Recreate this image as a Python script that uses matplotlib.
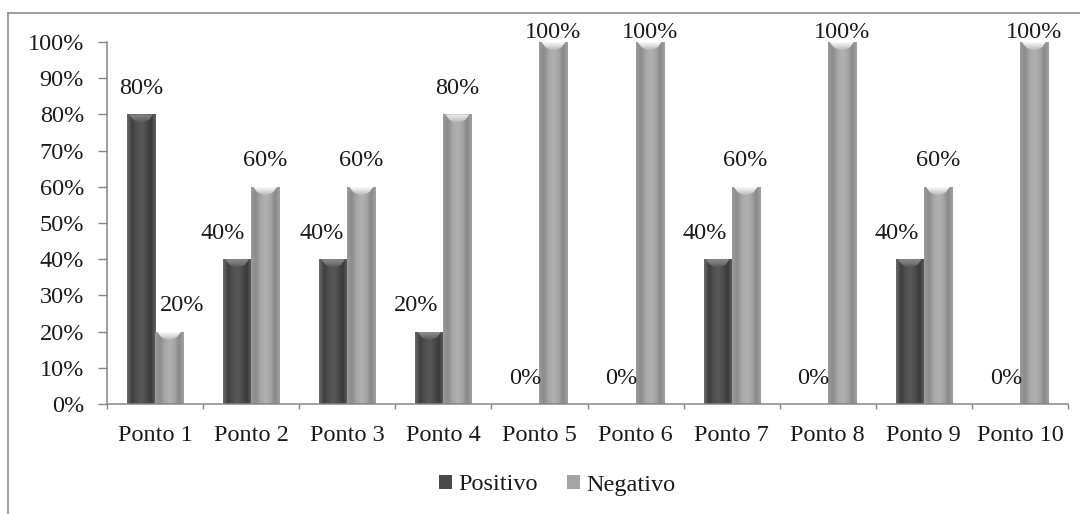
import numpy as np
import matplotlib
matplotlib.use("Agg")
import matplotlib.pyplot as plt
from matplotlib.colors import LinearSegmentedColormap
from matplotlib.patches import Polygon, Patch
from matplotlib.lines import Line2D

# ---- data ----
categories = ["Ponto 1", "Ponto 2", "Ponto 3", "Ponto 4", "Ponto 5",
              "Ponto 6", "Ponto 7", "Ponto 8", "Ponto 9", "Ponto 10"]
positivo = [80, 40, 40, 20, 0, 0, 40, 0, 40, 0]
negativo = [20, 60, 60, 80, 100, 100, 60, 100, 60, 100]
y_ticks = [0, 10, 20, 30, 40, 50, 60, 70, 80, 90, 100]
series_names = ["Positivo", "Negativo"]

# horizontal nudges (pixels) of the value labels
pos_label_shift = [0, -14, -12, -13, 0, 0, -13, 0, -13, 0]
neg_label_shift = [13, 0, 0, 0, 0, 0, 0, 0, 0, 0]

plt.rcParams['font.family'] = ['Liberation Serif', 'DejaVu Serif']
FS = 17.5
TXT = '#1a1a1a'
AXC = '#868686'

W, H = 1080, 514
fig = plt.figure(figsize=(W / 100, H / 100), dpi=100)
fig.patch.set_facecolor('white')

ax_l, ax_r, ax_b, ax_t = 107 / W, 1068 / W, 1 - 404 / H, 1 - 42 / H
ax = fig.add_axes([ax_l, ax_b, ax_r - ax_l, ax_t - ax_b])

x = np.arange(len(categories))
bw = 0.292
xlim = (-0.5, len(categories) - 0.5)
ylim = (0, 100)
px_x = (xlim[1] - xlim[0]) / ((ax_r - ax_l) * W)
px_y = (ylim[1] - ylim[0]) / ((ax_t - ax_b) * H)

dark_body = ['#6a6a6a', '#3e3e3e', '#4f4f4f', '#585858', '#4c4c4c', '#3a3a3a', '#626262']
dark_cap = ['#555555', '#8e8e8e']
light_body = ['#9a9a9a', '#8c8c8c', '#a6a6a6', '#b2b2b2', '#a8a8a8', '#8a8a8a', '#a0a0a0']
light_cap = ['#b0b0b0', '#fafafa']


def shaded_bar(xc, h, body, cap, z=2):
    bars = ax.bar(xc, h, width=bw, color=body[3], edgecolor='none', zorder=z)
    patch = bars[0]
    if h <= 0:
        return
    x0 = patch.get_x()
    x1 = x0 + patch.get_width()
    top = patch.get_height()
    grad = np.linspace(0, 1, 64)[None, :]
    im = ax.imshow(grad, extent=(x0, x1, 0, top), aspect='auto', origin='lower',
                   cmap=LinearSegmentedColormap.from_list('body', body),
                   interpolation='bilinear', zorder=z + 0.1)
    im.set_clip_path(patch)
    cap_h = 9 * px_y
    xm = (x0 + x1) / 2
    poly = Polygon([(x0 + 2 * px_x, top), (x1 - 2 * px_x, top),
                    (x1 - 6 * px_x, top - cap_h * 0.6), (xm, top - cap_h),
                    (x0 + 6 * px_x, top - cap_h * 0.6)],
                   closed=True, facecolor='none', edgecolor='none')
    ax.add_patch(poly)
    cgrad = np.linspace(0, 1, 32)[:, None]
    cim = ax.imshow(cgrad, extent=(x0, x1, top - cap_h, top), aspect='auto', origin='lower',
                    cmap=LinearSegmentedColormap.from_list('cap', cap),
                    interpolation='bilinear', zorder=z + 0.2)
    cim.set_clip_path(poly)


for i in range(len(categories)):
    shaded_bar(x[i] - bw / 2, positivo[i], dark_body, dark_cap)
    shaded_bar(x[i] + bw / 2, negativo[i], light_body, light_cap)

# value labels
y_cap = ylim[1] + 9 * px_y
for i in range(len(categories)):
    vp, vn = positivo[i], negativo[i]
    ax.text(x[i] - bw / 2 + pos_label_shift[i] * px_x, min(vp + 26 * px_y, y_cap),
            f"{vp}%", ha='center', va='center', fontsize=FS, color=TXT,
            clip_on=False, zorder=5)
    ax.text(x[i] + bw / 2 + neg_label_shift[i] * px_x, min(vn + 26 * px_y, y_cap),
            f"{vn}%", ha='center', va='center', fontsize=FS, color=TXT,
            clip_on=False, zorder=5)

ax.set_xlim(*xlim)
ax.set_ylim(*ylim)

ax.set_yticks(y_ticks)
ax.set_yticklabels([f"{v}%" for v in y_ticks])
ax.set_xticks(x)
ax.set_xticklabels(categories)
ax.set_xticks(np.arange(xlim[0], xlim[1] + 0.01, 1), minor=True)

ax.tick_params(axis='y', direction='out', length=6.5, width=1, color=AXC,
               labelsize=FS, labelcolor=TXT, pad=10)
ax.tick_params(axis='x', which='major', length=0, labelsize=FS, labelcolor=TXT, pad=15)
ax.tick_params(axis='x', which='minor', direction='out', length=3.6, width=1, color=AXC)

for s in ['top', 'right']:
    ax.spines[s].set_visible(False)
for s in ['left', 'bottom']:
    ax.spines[s].set_color(AXC)
    ax.spines[s].set_linewidth(1.1)
ax.set_facecolor('none')

# legend
handles = [Patch(facecolor='#4a4a4a', edgecolor='none'),
           Patch(facecolor='#a4a4a4', edgecolor='none')]
fig.legend(handles, series_names, loc='center',
           bbox_to_anchor=(557 / W, 1 - 485 / H), ncol=2, frameon=False,
           fontsize=FS, handlelength=0.55, handleheight=0.55,
           handletextpad=0.25, columnspacing=1.2, labelcolor=TXT)

# chart-area frame
fig.add_artist(Line2D([8 / W, 8 / W], [0, 1 - 13 / H], transform=fig.transFigure,
                      color='#8c8c8c', lw=1.2))
fig.add_artist(Line2D([8 / W, 1], [1 - 13 / H, 1 - 13 / H], transform=fig.transFigure,
                      color='#8c8c8c', lw=1.2))

fig.savefig('out.png', dpi=100, facecolor='white')
